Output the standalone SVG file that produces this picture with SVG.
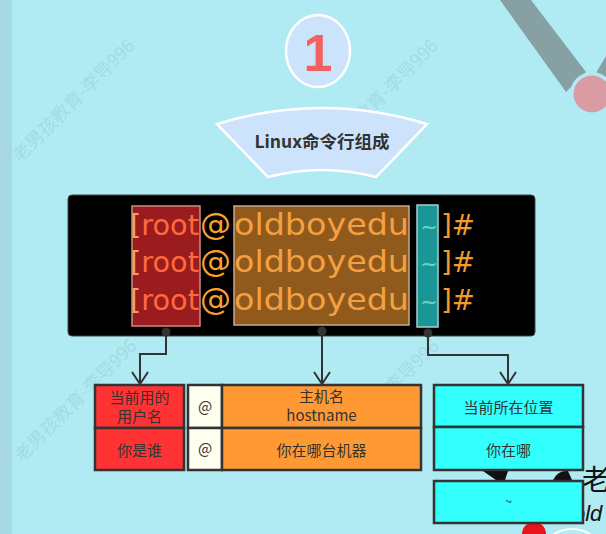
<svg xmlns="http://www.w3.org/2000/svg" width="606" height="534" viewBox="0 0 606 534">
<style>
.wm{font-family:"Noto Sans CJK SC","Noto Sans",sans-serif;font-size:18px;fill:#8fbcc4;fill-opacity:0.35}
.term{font-family:"DejaVu Sans",sans-serif;font-size:31px}
.t-user{font-size:28.8px}
.t-dir{font-size:23px}
.t-end{font-size:28.4px}
.cell{stroke:#333;stroke-width:2.5}
.lbl{font-family:"Noto Sans CJK SC","Noto Sans",sans-serif;font-size:15px;fill:#333;text-anchor:middle}
.conn{fill:none;stroke:#333;stroke-width:2}
.dot{fill:#333}
</style>
<defs>
<marker id="vhead" markerUnits="userSpaceOnUse" viewBox="-14 -10 16 20" markerWidth="16" markerHeight="20" refX="0" refY="0" orient="auto" overflow="visible">
<path d="M-12,-8 L0,0 L-12,8" fill="none" stroke="#333" stroke-width="2"/>
</marker>
</defs>
<g id="background">
<rect x="0" y="0" width="606" height="534" fill="#b0eaf2"/>
<rect x="0" y="0" width="12" height="534" fill="#a6d9e2"/>
<text class="wm" transform="translate(20,163) rotate(-45)" textLength="164" lengthAdjust="spacingAndGlyphs">老男孩教育-李导996</text>
<text class="wm" transform="translate(323,163) rotate(-45)" textLength="164" lengthAdjust="spacingAndGlyphs">老男孩教育-李导996</text>
<text class="wm" transform="translate(22,463) rotate(-45)" textLength="164" lengthAdjust="spacingAndGlyphs">老男孩教育-李导996</text>
<text class="wm" transform="translate(324,463) rotate(-45)" textLength="164" lengthAdjust="spacingAndGlyphs">老男孩教育-李导996</text>
<polygon points="500,0 531,0 586,72 566,92" fill="#86a0a4"/>
<polygon points="596,73 606,56 606,82" fill="#86a0a4"/>
<circle cx="592" cy="94" r="22" fill="#b0eaf2"/>
<circle cx="592" cy="94" r="18.5" fill="#d89ca2"/>
<polygon points="483,471 508,471 505,480 496,480" fill="#111"/>
<path d="M553,480 Q558,470 568,471 L572,480 Z" fill="#111"/>
<circle cx="534" cy="534" r="12" fill="#e8141c"/>
<circle cx="572" cy="562" r="33" fill="none" stroke="#fff" stroke-width="2"/>
<text x="582" y="490" font-family="Noto Sans CJK SC,sans-serif" font-size="28" fill="#111">老</text>
<text x="573" y="521" font-family="Liberation Sans,sans-serif" font-size="22" font-style="italic" fill="#111">old</text>
</g>
<g id="title-number">
<ellipse cx="318" cy="51" rx="32" ry="36" fill="#cce4fb" stroke="#fff" stroke-width="2.5"/>
<text x="318" y="71" text-anchor="middle" font-family="Liberation Sans,sans-serif" font-weight="bold" font-size="52" fill="#f26060">1</text>
</g>
<g id="title-banner">
<path d="M217,124 Q322,92 427,124 L376,177 Q322,163 268,177 Z" fill="#cce3fb" stroke="#fff" stroke-width="2.5"/>
<text x="322" y="148" text-anchor="middle" font-family="Noto Sans CJK SC,sans-serif" font-weight="bold" font-size="17.5" fill="#333">Linux命令行组成</text>
</g>
<g id="terminal">
<rect x="68" y="195" width="467" height="141" rx="4" fill="#000" stroke="#444" stroke-width="1"/>
<rect x="132" y="206" width="68" height="120" fill="#9a1c1e" stroke="#d08a80" stroke-width="1.5"/>
<rect x="234" y="206" width="175" height="119" fill="#8f5a1c" stroke="#c9a88a" stroke-width="1.5"/>
<rect x="417" y="205" width="21" height="122" fill="#1a9696" stroke="#a8d0d0" stroke-width="1.5"/>
<g class="term">
<text class="t-user" x="130" y="235" textLength="69" lengthAdjust="spacingAndGlyphs"><tspan fill="#f3a06a">[</tspan><tspan fill="#ff6a3d">root</tspan></text>
<text x="200" y="235" textLength="31" lengthAdjust="spacingAndGlyphs" fill="#f7a030">@</text>
<text x="234" y="235" textLength="175" lengthAdjust="spacingAndGlyphs" fill="#f5a040">oldboyedu</text>
<text class="t-dir" x="420" y="235" textLength="18" lengthAdjust="spacingAndGlyphs" fill="#70d0c0">~</text>
<text class="t-end" x="441" y="235" textLength="34" lengthAdjust="spacingAndGlyphs" fill="#f39a2b">]#</text>
<text class="t-user" x="130" y="272" textLength="69" lengthAdjust="spacingAndGlyphs"><tspan fill="#f3a06a">[</tspan><tspan fill="#ff6a3d">root</tspan></text>
<text x="200" y="272" textLength="31" lengthAdjust="spacingAndGlyphs" fill="#f7a030">@</text>
<text x="234" y="272" textLength="175" lengthAdjust="spacingAndGlyphs" fill="#f5a040">oldboyedu</text>
<text class="t-dir" x="420" y="272" textLength="18" lengthAdjust="spacingAndGlyphs" fill="#70d0c0">~</text>
<text class="t-end" x="441" y="272" textLength="34" lengthAdjust="spacingAndGlyphs" fill="#f39a2b">]#</text>
<text class="t-user" x="130" y="310" textLength="69" lengthAdjust="spacingAndGlyphs"><tspan fill="#f3a06a">[</tspan><tspan fill="#ff6a3d">root</tspan></text>
<text x="200" y="310" textLength="31" lengthAdjust="spacingAndGlyphs" fill="#f7a030">@</text>
<text x="234" y="310" textLength="175" lengthAdjust="spacingAndGlyphs" fill="#f5a040">oldboyedu</text>
<text class="t-dir" x="420" y="310" textLength="18" lengthAdjust="spacingAndGlyphs" fill="#70d0c0">~</text>
<text class="t-end" x="441" y="310" textLength="34" lengthAdjust="spacingAndGlyphs" fill="#f39a2b">]#</text>
</g>
</g>
<g id="box-user">
<rect class="cell" x="95" y="385" width="89" height="43" fill="#ff3333"/>
<rect class="cell" x="95" y="428" width="89" height="42" fill="#ff3333"/>
<text class="lbl" x="139.5" y="403">当前用的</text>
<text class="lbl" x="139.5" y="422">用户名</text>
<text class="lbl" x="139.5" y="456">你是谁</text>
</g>
<g id="box-at">
<rect class="cell" x="188" y="385" width="34" height="43" fill="#fffff0"/>
<rect class="cell" x="188" y="428" width="34" height="42" fill="#fffff0"/>
<text class="lbl" x="205" y="412">@</text>
<text class="lbl" x="205" y="454">@</text>
</g>
<g id="box-host">
<rect class="cell" x="222" y="385" width="199" height="43" fill="#ff9933"/>
<rect class="cell" x="222" y="428" width="199" height="42" fill="#ff9933"/>
<text class="lbl" x="321.5" y="402">主机名</text>
<text class="lbl" x="321.5" y="421">hostname</text>
<text class="lbl" x="321.5" y="456">你在哪台机器</text>
</g>
<g id="box-pwd">
<rect class="cell" x="434" y="385" width="149" height="42" fill="#33ffff"/>
<rect class="cell" x="434" y="427" width="149" height="43" fill="#33ffff"/>
<text class="lbl" x="508.5" y="413">当前所在位置</text>
<text class="lbl" x="508.5" y="456">你在哪</text>
</g>
<g id="box-tilde">
<rect class="cell" x="434" y="481" width="149" height="42" fill="#33ffff"/>
<text class="lbl" x="508.5" y="506" style="font-size:12px">~</text>
</g>
<g id="connectors">
<path class="conn" d="M166,332 V354 H140 V384" marker-end="url(#vhead)"/>
<path class="conn" d="M322,331 V384" marker-end="url(#vhead)"/>
<path class="conn" d="M428,333 V355 H508 V384" marker-end="url(#vhead)"/>
<circle class="dot" cx="166" cy="332" r="4.5"/>
<circle class="dot" cx="322" cy="331" r="4.5"/>
<circle class="dot" cx="428" cy="333" r="4.5"/>
</g>
</svg>
